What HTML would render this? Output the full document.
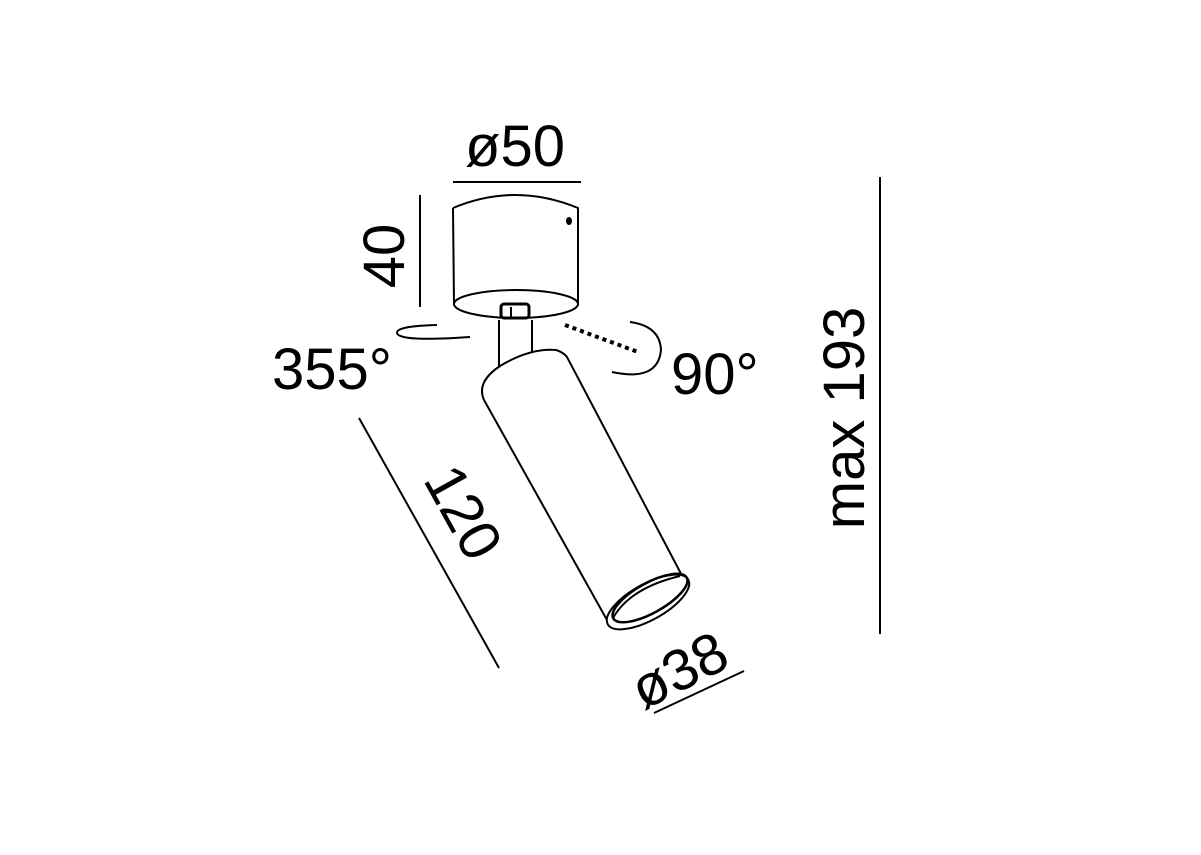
<!DOCTYPE html>
<html><head><meta charset="utf-8"><style>html,body{margin:0;padding:0;background:#fff}svg{display:block}</style></head>
<body>
<svg width="1201" height="855" viewBox="0 0 1201 855" xmlns="http://www.w3.org/2000/svg" font-family="Liberation Sans, sans-serif" fill="none" stroke="#000" stroke-width="2">
<!-- canopy -->
<path d="M453,208 Q515,182 578,208 L578,304 M453,208 L454,304" />
<ellipse cx="516" cy="304" rx="62" ry="14"/>
<ellipse cx="569" cy="221" rx="3" ry="4" fill="#000" stroke="none"/>
<!-- nut & stem -->
<rect x="501" y="304" width="28" height="14" rx="3" fill="#fff" stroke-width="3"/>
<line x1="511" y1="307" x2="511" y2="318"/>
<path d="M499,320 L499,372 M532,320 L532,352" />
<!-- rotation marks -->
<path d="M437,325 Q396,326 397,333 Q399,342 470,337"/>
<line x1="565" y1="325" x2="638" y2="352" stroke-width="4" stroke-dasharray="4,4"/>
<path d="M630,322 Q660,326 661,350 Q658,382 612,372"/>
<!-- tube -->
<path d="M484,400 Q476,382 500,366 Q530,348 556,350 Q563,352 567,357 L688,587" fill="#fff"/>
<line x1="484" y1="400" x2="607" y2="620"/>
<ellipse cx="648" cy="602" rx="46" ry="18" transform="rotate(-29 648 602)" fill="#fff"/>
<ellipse cx="650" cy="598" rx="42" ry="15" transform="rotate(-29 650 598)" stroke-width="2.5"/>
<path d="M613,618 Q630,588 680,576" stroke-width="2"/>
<!-- dimension lines -->
<line x1="453" y1="182" x2="581" y2="182"/>
<line x1="420" y1="195" x2="420" y2="307"/>
<line x1="880" y1="177" x2="880" y2="634"/>
<line x1="359" y1="418" x2="499" y2="668"/>
<line x1="654" y1="713" x2="744" y2="671"/>
<!-- text -->
<g fill="#000" stroke="none" font-size="58">
<text x="515" y="166" text-anchor="middle">ø50</text>
<text x="272" y="389">355°</text>
<text x="671" y="394">90°</text>
<text transform="translate(404,256) rotate(-90)" text-anchor="middle">40</text>
<text transform="translate(864,418) rotate(-90)" text-anchor="middle">max 193</text>
<text transform="translate(446,522) rotate(61)" text-anchor="middle">120</text>
<text transform="translate(688,688) rotate(-27)" text-anchor="middle">ø38</text>
</g>
</svg>
</body></html>
